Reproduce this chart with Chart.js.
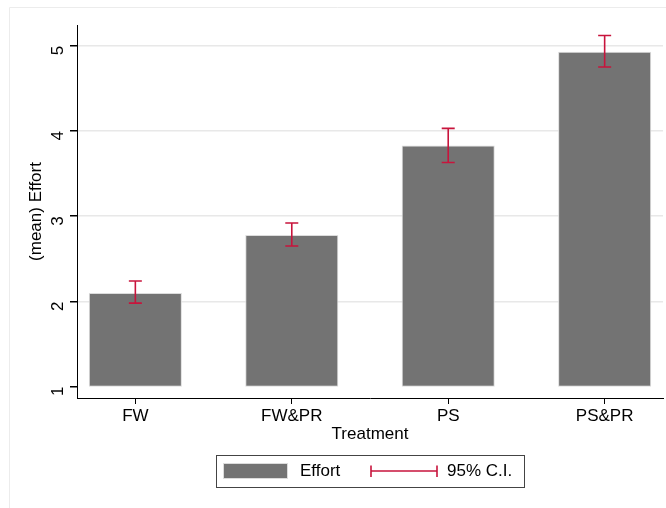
<!DOCTYPE html>
<html>
<head>
<meta charset="utf-8">
<script src="https://cdn.jsdelivr.net/npm/chart.js@4/dist/chart.umd.min.js"></script>
<style>
  html, body { margin: 0; padding: 0; background: #fff; }
  #wrap { width: 666px; height: 508px; }
</style>
</head>
<body>
<div id="wrap"><canvas id="myChart" width="666" height="508"></canvas></div>
<script>
// Chart data
const categories = ["FW", "FW&PR", "PS", "PS&PR"];
const categoryPos = [1, 2, 3, 4];
const effortMeans = [2.10, 2.78, 3.83, 4.93];
const ciLower = [1.98, 2.65, 3.63, 4.75];
const ciUpper = [2.24, 2.92, 4.03, 5.12];
const yTicks = [1, 2, 3, 4, 5];
const barBase = 1;

const FONT = "'Liberation Sans', Arial, sans-serif";
const FSIZE = 17;
const ciColor = "#c8143c";
const barColor = "#737373";

// faint outer frame like the Stata graph region
const framePlugin = {
    id: "frame",
    beforeDraw: (chart) => {
        const ctx = chart.ctx;
        ctx.save();
        ctx.fillStyle = "#fff";
        ctx.fillRect(0, 0, chart.width, chart.height);
        ctx.strokeStyle = "#ececec";
        ctx.lineWidth = 1;
        ctx.beginPath();
        ctx.moveTo(9.5, chart.height);
        ctx.lineTo(9.5, 7.5);
        ctx.lineTo(chart.width, 7.5);
        ctx.stroke();
        ctx.restore();
    },
};

// 95% C.I. whiskers
const ciPlugin = {
    id: "ciBars",
    afterDatasetsDraw: (chart) => {
        const ctx = chart.ctx;
        const xs = chart.scales.x;
        const ys = chart.scales.y;
        ctx.save();
        ctx.strokeStyle = ciColor;
        ctx.lineWidth = 1.6;
        categoryPos.forEach((p, i) => {
            const x = xs.getPixelForValue(p);
            const yHi = ys.getPixelForValue(ciUpper[i]);
            const yLo = ys.getPixelForValue(ciLower[i]);
            ctx.beginPath();
            ctx.moveTo(x, yHi);
            ctx.lineTo(x, yLo);
            ctx.moveTo(x - 6.5, yHi);
            ctx.lineTo(x + 6.5, yHi);
            ctx.moveTo(x - 6.5, yLo);
            ctx.lineTo(x + 6.5, yLo);
            ctx.stroke();
        });
        ctx.restore();
    },
};

// legend box at the bottom
const legendPlugin = {
    id: "ciLegend",
    afterDraw: (chart) => {
        const ctx = chart.ctx;
        ctx.save();
        ctx.fillStyle = "#fff";
        ctx.fillRect(216, 455, 309, 32);
        ctx.strokeStyle = "#444";
        ctx.lineWidth = 1;
        ctx.strokeRect(216.5, 455.5, 308, 32);

        ctx.fillStyle = barColor;
        ctx.fillRect(223, 463, 65, 16);
        ctx.strokeStyle = "#dcdcdc";
        ctx.strokeRect(223.5, 463.5, 64, 15);

        ctx.font = FSIZE + "px " + FONT;
        ctx.fillStyle = "#000";
        ctx.textBaseline = "middle";
        ctx.fillText("Effort", 300, 471.5);

        ctx.strokeStyle = ciColor;
        ctx.lineWidth = 1.6;
        ctx.beginPath();
        ctx.moveTo(371, 471);
        ctx.lineTo(437, 471);
        ctx.moveTo(371, 465.5);
        ctx.lineTo(371, 477);
        ctx.moveTo(437, 465.5);
        ctx.lineTo(437, 477);
        ctx.stroke();

        ctx.fillText("95% C.I.", 447, 471.5);
        ctx.restore();
    },
};

const ctx = document.getElementById("myChart").getContext("2d");
const myChart = new Chart(ctx, {
    type: "bar",
    data: {
        datasets: [
            {
                label: "Effort",
                data: categoryPos.map((p, i) => ({ x: p, y: [barBase, effortMeans[i]] })),
                backgroundColor: barColor,
                borderColor: "#dcdcdc",
                borderWidth: 1,
                borderSkipped: false,
                barPercentage: 0.595,
                categoryPercentage: 1,
            },
        ],
    },
    options: {
        responsive: false,
        animation: false,
        devicePixelRatio: 1,
        layout: { padding: { left: 26, right: 3, top: 25, bottom: 63 } },
        plugins: {
            legend: { display: false },
            tooltip: { enabled: false },
        },
        scales: {
            x: {
                type: "linear",
                offset: false,
                min: 0.627,
                max: 4.373,
                afterBuildTicks: (scale) => {
                    scale.ticks = categoryPos.map((v) => ({ value: v }));
                },
                afterFit: (scale) => {
                    scale.height = 47;
                },
                ticks: {
                    callback: (v) => categories[categoryPos.indexOf(v)],
                    color: "#000",
                    font: { family: FONT, size: FSIZE },
                    padding: 2,
                    maxRotation: 0,
                },
                grid: {
                    offset: false,
                    drawOnChartArea: false,
                    drawTicks: true,
                    tickLength: 6,
                    tickColor: "#000",
                },
                border: { color: "#000", width: 1 },
                title: {
                    display: true,
                    text: "Treatment",
                    color: "#000",
                    font: { family: FONT, size: FSIZE },
                    padding: { top: 0, bottom: 0 },
                },
            },
            y: {
                min: 0.867,
                max: 5.243,
                afterBuildTicks: (scale) => {
                    scale.ticks = yTicks.map((v) => ({ value: v }));
                },
                afterFit: (scale) => {
                    scale.width = 51;
                },
                ticks: {
                    color: "#000",
                    font: { family: FONT, size: FSIZE },
                    minRotation: 90,
                    maxRotation: 90,
                    padding: 12,
                },
                grid: {
                    color: (c) => (c.tick && c.tick.value === barBase ? "rgba(0,0,0,0)" : "#e8e8e8"),
                    lineWidth: 1.5,
                    tickColor: "#000",
                    tickLength: 7,
                },
                border: { color: "#000", width: 1 },
                title: {
                    display: true,
                    text: "(mean) Effort",
                    color: "#000",
                    font: { family: FONT, size: FSIZE },
                    padding: { top: 0, bottom: 0 },
                },
            },
        },
    },
    plugins: [framePlugin, ciPlugin, legendPlugin],
});
</script>
</body>
</html>
